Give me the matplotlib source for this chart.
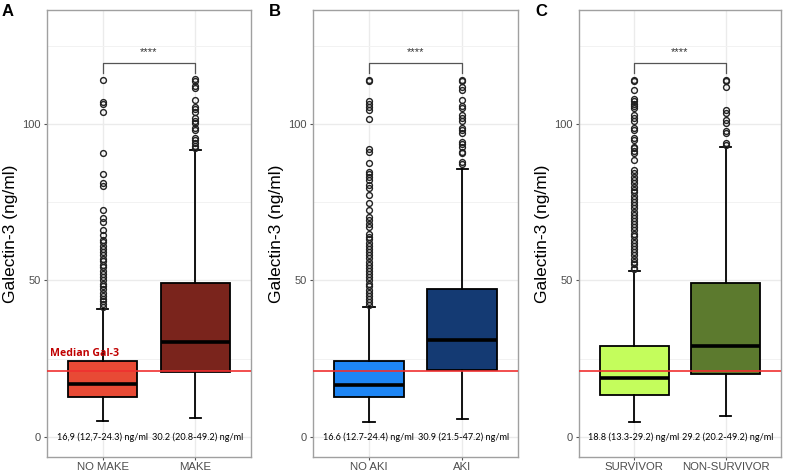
import matplotlib.pyplot as plt
from matplotlib.ticker import MultipleLocator

# (ng/ml)
panels = ["A", "B", "C"]
groups = [["NO MAKE", "MAKE"], ["NO AKI", "AKI"], ["SURVIVOR", "NON-SURVIVOR"]]
colors = [["#e84a35", "#7a241c"], ["#1e86f5", "#143a73"], ["#c4fd5c", "#5c7a2e"]]

q1 = [[12.7, 20.8], [12.7, 21.5], [13.3, 20.2]]
med = [[16.9, 30.2], [16.6, 30.9], [18.8, 29.2]]
q3 = [[24.3, 49.2], [24.4, 47.2], [29.2, 49.2]]
whislo = [[5.2, 6.0], [4.9, 5.7], [4.9, 6.7]]
whishi = [[41.0, 91.7], [41.5, 85.5], [53.0, 92.7]]

fliers_a0 = [114.1, 107.0, 106.4, 103.9, 90.8, 84.0, 81.2, 80.2, 72.5, 69.9, 68.8,
             66.0, 64.5, 63.0, 62.2, 61.0, 60.1, 59.0, 58.2, 57.0, 56.1, 55.0, 54.2,
             53.1, 52.0, 51.2, 50.1, 49.0, 48.1, 47.2, 46.0, 45.1, 44.2, 43.3, 42.4, 41.6]
fliers_a1 = [114.2, 113.6, 112.0, 111.5, 107.5, 105.5, 104.8, 103.8, 102.0, 101.0,
             100.4, 98.6, 98.0, 95.4, 94.9, 93.8, 92.8, 92.2]
fliers_b0 = [114.1, 113.6, 107.2, 106.4, 105.3, 104.3, 101.5, 91.9, 91.1, 87.4, 84.7,
             84.0, 83.1, 82.1, 80.4, 79.4, 77.2, 74.6, 72.6, 70.3, 69.2, 67.9, 67.1,
             65.0, 64.0, 63.1, 62.0, 61.0, 60.0, 59.1, 58.0, 57.1, 56.0, 55.0, 54.1,
             53.0, 52.0, 51.1, 50.0, 49.0, 48.1, 47.0, 46.0, 45.1, 44.0, 43.0, 42.1]
fliers_b1 = [114.1, 113.6, 111.8, 110.9, 107.7, 105.8, 105.0, 102.9, 101.8, 101.0,
             98.6, 98.1, 97.2, 94.3, 93.6, 92.7, 91.1, 90.6, 87.9, 87.2]
fliers_c0 = [114.1, 113.6, 111.0, 107.9, 107.2, 106.4, 105.8, 105.0, 102.9, 101.8,
             101.0, 98.6, 98.1, 95.4, 94.9, 92.7, 92.2, 91.5, 90.6, 88.5, 85.3, 84.2,
             83.1, 82.1, 81.2, 80.0, 79.0, 78.1, 77.0, 76.1, 75.0, 74.0, 73.1, 72.0,
             71.0, 70.1, 69.0, 68.0, 67.1, 66.0, 65.0, 64.1, 63.0, 62.0, 61.1, 60.0,
             59.0, 58.1, 57.0, 56.0, 55.1, 54.0, 53.5]
fliers_c1 = [114.1, 113.6, 111.8, 104.5, 103.6, 101.3, 100.4, 97.9, 97.2, 93.8, 93.3]
fliers = [[fliers_a0, fliers_a1], [fliers_b0, fliers_b1], [fliers_c0, fliers_c1]]

annot = [["16,9 (12,7-24.3) ng/ml", "30.2 (20.8-49.2) ng/ml"],
         ["16.6 (12.7-24.4) ng/ml", "30.9 (21.5-47.2) ng/ml"],
         ["18.8 (13.3-29.2) ng/ml", "29.2 (20.2-49.2) ng/ml"]]
median_gal3 = 21.0

W, H = 786, 474
fig = plt.figure(figsize=(W / 100, H / 100), dpi=100)
plt.rcParams["font.family"] = ["Liberation Sans", "DejaVu Sans"]

ax_left = [47, 313, 579]
ax_width = [204, 205, 202]
top, bottom = 10, 457

for i in range(3):
    ax = fig.add_axes([ax_left[i] / W, (H - bottom) / H, ax_width[i] / W, (bottom - top) / H])
    stats = []
    for j in range(2):
        stats.append(dict(med=med[i][j], q1=q1[i][j], q3=q3[i][j],
                          whislo=whislo[i][j], whishi=whishi[i][j],
                          fliers=fliers[i][j], label=groups[i][j]))
    bp = ax.bxp(stats, positions=[1, 2], widths=0.75, patch_artist=True,
                boxprops=dict(edgecolor="black", linewidth=1.3),
                medianprops=dict(color="black", linewidth=2.6),
                whiskerprops=dict(color="black", linewidth=1.3),
                capprops=dict(color="black", linewidth=1.3),
                flierprops=dict(marker="o", markersize=4.2, markerfacecolor="none",
                                markeredgecolor="#222222", markeredgewidth=1.0),
                capwidths=0.12, zorder=3)
    for patch, c in zip(bp["boxes"], colors[i]):
        patch.set_facecolor(c)

    ax.axhline(median_gal3, color="#f03030", linewidth=1.2, zorder=4)

    # significance bracket
    ax.plot([1, 1, 2, 2], [116.2, 119.4, 119.4, 116.2], color="#555555", linewidth=0.9)
    ax.text(1.5, 123.0, "****", ha="center", va="center", fontsize=8, color="#333333")

    for j in range(2):
        ax.text(1 + j * 1.02, 0, annot[i][j], ha="center", va="center",
                fontsize=6.6, family=["Lato", "DejaVu Sans"], color="black", zorder=5)

    if i == 0:
        ax.text(0.43, 26.8, "Median Gal-3", ha="left", va="center", fontsize=7.6,
                fontweight="bold", color="#c00000", family=["Open Sans", "DejaVu Sans"])

    ax.set_xlim(0.4, 2.6)
    ax.set_ylim(-6.4, 136.4)
    ax.set_yticks([0, 50, 100])
    ax.yaxis.set_minor_locator(MultipleLocator(25))
    ax.set_xticks([1, 2])
    ax.set_xticklabels(groups[i])
    ax.grid(True, which="major", color="#ebebeb", linewidth=1.0, zorder=0)
    ax.grid(True, which="minor", axis="y", color="#f2f2f2", linewidth=0.7, zorder=0)
    ax.set_axisbelow(True)
    ax.tick_params(axis="y", which="minor", length=0)
    ax.tick_params(axis="both", which="major", length=2.5, color="#555555", width=0.8)
    ax.tick_params(axis="y", labelsize=8, labelcolor="#4d4d4d", pad=2)
    ax.tick_params(axis="x", labelsize=8.2, labelcolor="#4d4d4d", pad=1)
    for s in ax.spines.values():
        s.set_color("#a0a0a0")
        s.set_linewidth(1.0)
    ax.set_ylabel("Galectin-3 (ng/ml)", fontsize=12.5, color="black", labelpad=3)

    fig.text((ax_left[i] - 44) / W if i else 2 / W, (H - 12) / H, panels[i],
             fontsize=12, fontweight="bold", ha="left", va="center")

fig.savefig("out.png", dpi=100)
